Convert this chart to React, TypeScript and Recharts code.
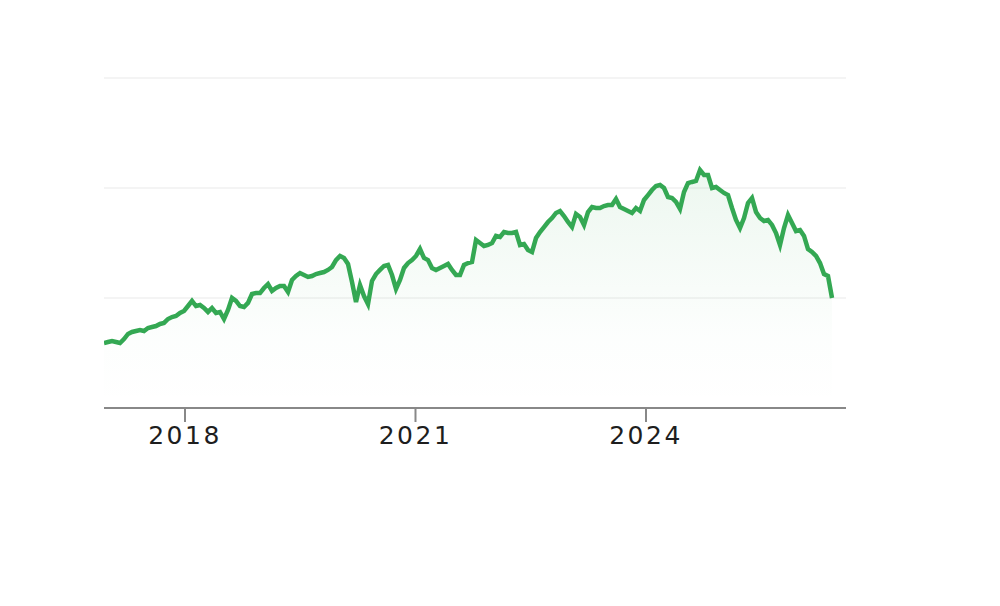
import { Area, AreaChart, CartesianGrid, XAxis, YAxis } from "recharts";

// price, one sample roughly every 19 days
const prices = [
  59.1, 60.0, 60.9, 60.0, 59.1, 62.7, 67.3, 69.1, 70.0, 70.9,
  70.0, 72.7, 73.6, 74.5, 76.4, 77.3, 80.9, 82.7, 83.6, 86.4,
  88.2, 92.7, 97.3, 92.7, 93.6, 90.9, 87.3, 90.9, 86.4, 87.3,
  80.9, 89.1, 100.0, 97.3, 92.7, 91.8, 95.5, 103.6, 104.5, 104.5,
  109.1, 112.7, 106.4, 109.1, 110.9, 110.9, 105.5, 116.4, 120.0, 122.7,
  120.9, 119.1, 120.0, 121.8, 122.7, 123.6, 125.5, 128.2, 134.5, 138.2,
  136.4, 130.9, 114.5, 96.4, 111.8, 101.8, 94.5, 115.5, 121.8, 125.5,
  129.1, 130.0, 120.9, 108.2, 116.4, 127.3, 131.8, 134.5, 138.2, 144.5,
  136.4, 134.5, 127.3, 125.5, 127.3, 129.1, 130.9, 125.5, 120.9, 120.9,
  130.0, 131.8, 132.7, 152.7, 150.0, 147.3, 148.2, 150.0, 156.4, 155.5,
  160.0, 159.1, 159.1, 160.0, 148.2, 149.1, 143.6, 141.8, 154.5, 160.0,
  164.5, 169.1, 172.7, 177.3, 179.1, 174.5, 169.1, 164.5, 176.4, 173.6,
  166.4, 178.2, 182.7, 181.8, 181.8, 183.6, 184.5, 184.5, 190.0, 182.7,
  180.9, 179.1, 177.3, 181.8, 179.1, 189.1, 193.6, 198.2, 201.8, 202.7,
  200.0, 191.8, 190.9, 187.3, 180.9, 196.4, 204.5, 205.5, 206.4, 216.4,
  211.8, 211.8, 200.0, 200.9, 198.2, 195.5, 193.6, 181.8, 170.9, 163.6,
  172.7, 186.4, 190.9, 178.2, 172.7, 170.0, 170.9, 166.4, 159.1, 148.2,
  163.6, 175.5, 168.2, 160.9, 161.8, 156.4, 144.5, 141.8, 138.2, 131.8,
  121.8, 120.0, 100.0,
];

const startYear = 2016.946;
const stepYears = 0.05206;
const dates = prices.map((_, i) => startYear + i * stepYears);

const yearTicks = [2018, 2021, 2024];
const priceTicks = [0, 100, 200, 300];

const data = prices.map((price, i) => ({ t: dates[i], price }));

export default function App() {
  return (
    <div style={{ position: "absolute", left: 0, top: 0, width: 1000, height: 606, background: "#fff" }}>
      <AreaChart width={1000} height={606} data={data} margin={{ top: 78, right: 154, left: 104, bottom: 158 }}>
        <defs>
          <linearGradient id="fillGreen" x1="0" y1="0" x2="0" y2="1">
            <stop offset="0%" stopColor="#34a853" stopOpacity={0.15} />
            <stop offset="70%" stopColor="#34a853" stopOpacity={0.02} />
            <stop offset="100%" stopColor="#34a853" stopOpacity={0} />
          </linearGradient>
        </defs>
        <CartesianGrid vertical={false} stroke="#f0f0f0" strokeWidth={1.5} />
        <XAxis
          dataKey="t"
          type="number"
          scale="linear"
          domain={[2016.946, 2026.603]}
          ticks={yearTicks}
          tickFormatter={(v: number) => String(v)}
          height={40}
          axisLine={{ stroke: "#888", strokeWidth: 2 }}
          tickLine={{ stroke: "#888", strokeWidth: 2 }}
          tickSize={14}
          tickMargin={4}
          tick={{ fontSize: 25, fill: "#1e1e1e", fontFamily: "DejaVu Sans", letterSpacing: 2.5 }}
          allowDataOverflow
        />
        <YAxis hide domain={[0, 300]} ticks={priceTicks} />
        <Area
          type="linear"
          dataKey="price"
          stroke="#34a853"
          strokeWidth={4.5}
          strokeLinejoin="miter"
          fill="url(#fillGreen)"
          dot={false}
          activeDot={false}
          isAnimationActive={false}
        />
      </AreaChart>
    </div>
  );
}
